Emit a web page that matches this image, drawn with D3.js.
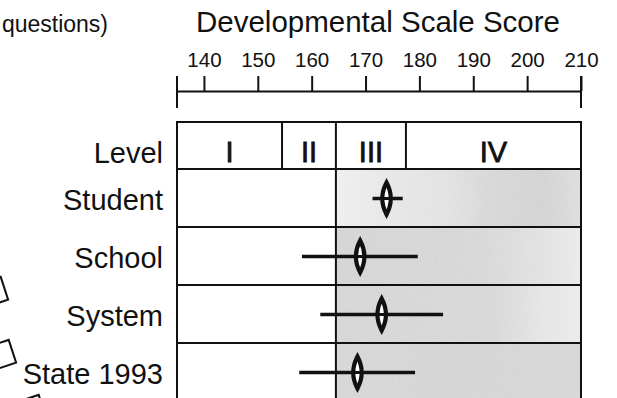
<!DOCTYPE html>
<html>
<head>
<meta charset="utf-8">
<script src="https://cdn.jsdelivr.net/npm/d3@7"></script>
<style>
  html, body { margin: 0; padding: 0; background: #fff; }
  svg { display: block; font-family: "Liberation Sans", Arial, Helvetica, sans-serif; }
</style>
</head>
<body>
<svg id="chart" width="617" height="398"></svg>
<script>
// ---- data ----
const title = "Developmental Scale Score";
const sideNote = "questions)";
const tickValues = [140, 150, 160, 170, 180, 190, 200, 210];
const scaleMin = 135;
const scaleMax = 210;
const levelNames = ["I", "II", "III", "IV"];
const levelCuts = [135, 154.5, 164.5, 177.5, 210];
const rowLabels = ["Student", "School", "System", "State 1993"];
const estimates = [173.9, 169.0, 173.0, 168.5];
const lowerBounds = [171.3, 158.2, 161.6, 157.7];
const upperBounds = [176.9, 179.7, 184.4, 179.2];
// shading gradient stops per row: [offset, grey]
const shadeStops = [
  [[0, "#eeeeee"], [0.25, "#e6e6e6"], [0.45, "#e2e2e2"], [0.62, "#d7d7d7"], [0.85, "#d3d3d3"], [1, "#dddddd"]],
  [[0, "#d4d4d4"], [0.6, "#d7d7d7"], [0.85, "#e2e2e2"], [1, "#eaeaea"]],
  [[0, "#d5d5d5"], [0.65, "#d8d8d8"], [0.85, "#e5e5e5"], [1, "#ebebeb"]],
  [[0, "#d6d6d6"], [0.5, "#d4d4d4"], [1, "#d6d6d6"]]
];

// ---- drawing ----
const svg = d3.select("#chart");
const ink = "#111";

const x = d3.scaleLinear().domain([scaleMin, scaleMax]).range([177, 581]);
const rowY = d3.scaleBand().domain(rowLabels).range([169, 401]).padding(0);
const levelTop = 122, levelBottom = 169;

// gradients and stipple texture
const defs = svg.append("defs");
rowLabels.forEach((r, i) => {
  const g = defs.append("linearGradient").attr("id", "shade" + i)
    .attr("x1", "0%").attr("x2", "100%").attr("y1", "0%").attr("y2", "0%");
  shadeStops[i].forEach(s => g.append("stop").attr("offset", s[0]).attr("stop-color", s[1]));
});
const f = defs.append("filter").attr("id", "stipple").attr("x", 0).attr("y", 0)
  .attr("width", "100%").attr("height", "100%");
f.append("feTurbulence").attr("type", "fractalNoise").attr("baseFrequency", 0.9)
  .attr("numOctaves", 1).attr("seed", 3).attr("result", "noise");
f.append("feColorMatrix").attr("in", "noise").attr("type", "matrix")
  .attr("values", "0 0 0 0 1  0 0 0 0 1  0 0 0 0 1  -6 0 0 0 3.2").attr("result", "dots");
f.append("feComposite").attr("in", "dots").attr("in2", "SourceGraphic").attr("operator", "in");

// title
svg.append("text").attr("x", (x(scaleMin) + x(scaleMax)) / 2 - 1).attr("y", 32)
  .attr("text-anchor", "middle").attr("font-size", 29.5).attr("fill", ink).text(title);

// side note (cut at left)
svg.append("text").attr("x", 108).attr("y", 32).attr("text-anchor", "end")
  .attr("font-size", 23).attr("fill", ink).text(sideNote);

// axis
const axisY = 91;
const axis = d3.axisTop(x).tickValues(tickValues).tickSize(15).tickSizeOuter(0).tickPadding(9)
  .tickFormat(d3.format("d"));
const ag = svg.append("g").attr("transform", `translate(0,${axisY})`).call(axis);
ag.select(".domain").attr("stroke", ink).attr("stroke-width", 2);
ag.selectAll(".tick line").attr("stroke", ink).attr("stroke-width", 2);
ag.selectAll(".tick text").attr("font-size", 20.5).attr("fill", ink)
  .attr("font-family", "Liberation Sans, Arial, sans-serif");
[scaleMin, scaleMax].forEach(v => {
  svg.append("line").attr("x1", x(v)).attr("x2", x(v)).attr("y1", 76).attr("y2", 108)
    .attr("stroke", ink).attr("stroke-width", 2);
});

// shading in data rows
rowLabels.forEach((r, i) => {
  svg.append("rect").attr("x", x(levelCuts[2])).attr("y", rowY(r))
    .attr("width", x(scaleMax) - x(levelCuts[2])).attr("height", rowY.bandwidth())
    .attr("fill", `url(#shade${i})`);
  svg.append("rect").attr("x", x(levelCuts[2])).attr("y", rowY(r))
    .attr("width", x(scaleMax) - x(levelCuts[2])).attr("height", rowY.bandwidth())
    .attr("fill", "#000").attr("filter", "url(#stipple)").attr("opacity", 0.12);
});

// level row
svg.append("rect").attr("x", x(scaleMin)).attr("y", levelTop)
  .attr("width", x(scaleMax) - x(scaleMin)).attr("height", levelBottom - levelTop)
  .attr("fill", "none").attr("stroke", ink).attr("stroke-width", 2);
levelCuts.slice(1, -1).forEach(c => {
  svg.append("line").attr("x1", x(c)).attr("x2", x(c)).attr("y1", levelTop).attr("y2", levelBottom)
    .attr("stroke", ink).attr("stroke-width", 2);
});
levelNames.forEach((n, i) => {
  svg.append("text").attr("x", x((levelCuts[i] + levelCuts[i + 1]) / 2)).attr("y", 161.5)
    .attr("text-anchor", "middle").attr("font-size", 29).attr("fill", ink)
    .attr("stroke", ink).attr("stroke-width", 0.8).text(n);
});
svg.append("text").attr("x", 163).attr("y", 162.5).attr("text-anchor", "end")
  .attr("font-size", 29).attr("fill", ink).text("Level");

// data row borders
rowLabels.forEach(r => {
  svg.append("line").attr("x1", x(scaleMin)).attr("x2", x(scaleMax))
    .attr("y1", rowY(r) + rowY.bandwidth()).attr("y2", rowY(r) + rowY.bandwidth())
    .attr("stroke", ink).attr("stroke-width", 2);
});
[scaleMin, levelCuts[2], scaleMax].forEach(v => {
  svg.append("line").attr("x1", x(v)).attr("x2", x(v)).attr("y1", levelBottom).attr("y2", 401)
    .attr("stroke", ink).attr("stroke-width", 2);
});

// row labels
rowLabels.forEach(r => {
  svg.append("text").attr("x", 163).attr("y", rowY(r) + rowY.bandwidth() / 2 + 12)
    .attr("text-anchor", "end").attr("font-size", 29).attr("fill", ink).text(r);
});

// interval bars and lens markers
rowLabels.forEach((r, i) => {
  const cy = rowY(r) + rowY.bandwidth() / 2 + 0.5;
  svg.append("line").attr("x1", x(lowerBounds[i])).attr("x2", x(upperBounds[i]))
    .attr("y1", cy).attr("y2", cy).attr("stroke", ink).attr("stroke-width", 3.5);
  const cx = x(estimates[i]);
  const h = 16, w = 8.5;
  svg.append("path")
    .attr("d", `M${cx},${cy - h} Q${cx + w},${cy} ${cx},${cy + h} Q${cx - w},${cy} ${cx},${cy - h} Z`)
    .attr("fill", "#fff").attr("stroke", ink).attr("stroke-width", 4.2);
  svg.append("line").attr("x1", cx - 3).attr("x2", cx + 3).attr("y1", cy).attr("y2", cy)
    .attr("stroke", ink).attr("stroke-width", 3);
});

// partial rotated squares at the left edge (from a neighbouring panel)
const squares = [
  { cx: -7, cy: 292, a: -18 },
  { cx: 1, cy: 355, a: -18 },
  { cx: 31, cy: 410, a: -18 }
];
squares.forEach(s => {
  svg.append("rect").attr("x", -12).attr("y", -12).attr("width", 24).attr("height", 24)
    .attr("fill", "none").attr("stroke", ink).attr("stroke-width", 2)
    .attr("transform", `translate(${s.cx},${s.cy}) rotate(${s.a})`);
});
</script>
</body>
</html>
